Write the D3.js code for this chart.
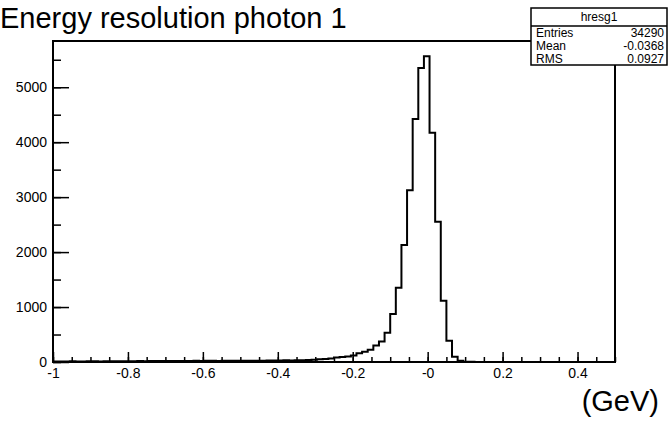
<!DOCTYPE html>
<html>
<head>
<meta charset="utf-8">
<script src="https://cdn.jsdelivr.net/npm/d3@7/dist/d3.min.js"></script>
<style>
  body { margin: 0; background: #fff; }
  svg { display: block; font-family: "Liberation Sans", Arial, Helvetica, sans-serif; }
</style>
</head>
<body>
<div id="chart"></div>
<script>
// histogram: 100 bins from -1 to 0.5 GeV
var binLow = -1;
var binHigh = 0.5;
var counts = [
  8, 10, 9, 12, 11, 10, 13, 12, 11, 14,
  13, 12, 15, 14, 13, 16, 15, 17, 16, 18,
  17, 19, 18, 20, 19, 21, 20, 22, 21, 20,
  22, 21, 23, 22, 24, 23, 25, 24, 26, 27,
  28, 30, 29, 32, 34, 38, 42, 48, 55, 62,
  80, 92, 100, 118, 160, 185, 225, 300, 375, 533,
  873, 1351, 2127, 3127, 4420, 5350, 5563, 4170, 2551, 1115,
  388, 97, 24, 5, 3, 2, 1, 1, 0, 0,
  0, 0, 0, 0, 0, 0, 0, 0, 0, 0,
  0, 0, 0, 0, 0, 0, 0, 0, 0, 0
];

var xTicks = [-1, -0.8, -0.6, -0.4, -0.2, 0, 0.2, 0.4];
var xTickLabels = ["-1", "-0.8", "-0.6", "-0.4", "-0.2", "-0", "0.2", "0.4"];
var yTicks = [0, 1000, 2000, 3000, 4000, 5000];

var title = "Energy resolution photon 1";
var xTitle = "(GeV)";
var statsName = "hresg1";
var statsLabels = ["Entries", "Mean", "RMS"];
var statsValues = ["34290", "-0.0368", "0.0927"];

var W = 668, H = 422;
var frame = {left: 53, right: 615, top: 41, bottom: 362};

var svg = d3.select("#chart").append("svg")
  .attr("width", W)
  .attr("height", H);

var nBins = counts.length;
var binW = (binHigh - binLow) / nBins;
var yMax = d3.max(counts) * 1.05;

var x = d3.scaleLinear().domain([binLow, binHigh]).range([frame.left, frame.right]);
var y = d3.scaleLinear().domain([0, yMax]).range([frame.bottom, frame.top]);

// minor ticks every 0.05 / 500
var xMinor = d3.range(0, 31).map(function(i) { return binLow + i * 0.05; })
  .filter(function(v) { return v <= binHigh + 1e-9; });
var yMinor = d3.range(0, 12).map(function(i) { return i * 500; })
  .filter(function(v) { return v <= yMax; });

var axisColor = "#000";

// x axis
var gx = svg.append("g")
  .attr("transform", "translate(0," + frame.bottom + ")");
gx.call(d3.axisBottom(x).tickValues(xMinor).tickSize(-5).tickFormat(""));
gx.append("g").call(d3.axisBottom(x)
  .tickValues(xTicks)
  .tickSize(-10)
  .tickPadding(6)
  .tickFormat(function(d, i) { return xTickLabels[i]; }));
gx.selectAll(".domain").remove();
gx.selectAll("line").attr("stroke", axisColor).attr("stroke-width", 1.5);
gx.selectAll("text")
  .attr("fill", axisColor)
  .style("font-size", "14px");

// y axis
var gy = svg.append("g")
  .attr("transform", "translate(" + frame.left + ",0)");
gy.call(d3.axisLeft(y).tickValues(yMinor).tickSize(-8).tickFormat(""));
gy.append("g").call(d3.axisLeft(y)
  .tickValues(yTicks)
  .tickSize(-16)
  .tickPadding(6)
  .tickFormat(d3.format("d")));
gy.selectAll(".domain").remove();
gy.selectAll("line").attr("stroke", axisColor).attr("stroke-width", 1.5);
gy.selectAll("text")
  .attr("fill", axisColor)
  .style("font-size", "14px");

// histogram outline
var pts = counts.map(function(c, i) { return [binLow + i * binW, c]; });
pts.push([binHigh, counts[nBins - 1]]);

svg.append("path")
  .datum(pts)
  .attr("fill", "none")
  .attr("stroke", "#000")
  .attr("stroke-width", 2)
  .attr("d", d3.line()
    .x(function(d) { return x(d[0]); })
    .y(function(d) { return y(d[1]); })
    .curve(d3.curveStepAfter));

// frame
svg.append("rect")
  .attr("x", frame.left)
  .attr("y", frame.top)
  .attr("width", frame.right - frame.left)
  .attr("height", frame.bottom - frame.top)
  .attr("fill", "none")
  .attr("stroke", "#000")
  .attr("stroke-width", 2);

// title
svg.append("text")
  .attr("x", 0)
  .attr("y", 28)
  .style("font-size", "29px")
  .text(title);

// x title
svg.append("text")
  .attr("x", 659)
  .attr("y", 411)
  .attr("text-anchor", "end")
  .style("font-size", "29px")
  .text(xTitle);

// stats box
var box = {x: 531, y: 8, w: 136, head: 18, row: 13};
var boxH = box.head + box.row * statsLabels.length;
var gs = svg.append("g");
gs.append("rect")
  .attr("x", box.x).attr("y", box.y)
  .attr("width", box.w).attr("height", boxH)
  .attr("fill", "#fff")
  .attr("stroke", "#000")
  .attr("stroke-width", 1.5);
gs.append("line")
  .attr("x1", box.x).attr("x2", box.x + box.w)
  .attr("y1", box.y + box.head).attr("y2", box.y + box.head)
  .attr("stroke", "#000")
  .attr("stroke-width", 1.5);
gs.append("text")
  .attr("x", box.x + box.w / 2)
  .attr("y", box.y + box.head / 2 + 4)
  .attr("text-anchor", "middle")
  .style("font-size", "12px")
  .text(statsName);
gs.selectAll(".slabel")
  .data(statsLabels)
  .enter().append("text")
  .attr("class", "slabel")
  .attr("x", box.x + 5)
  .attr("y", function(d, i) { return box.y + box.head + box.row * i + box.row / 2 + 4; })
  .style("font-size", "12px")
  .text(function(d) { return d; });
gs.selectAll(".svalue")
  .data(statsValues)
  .enter().append("text")
  .attr("class", "svalue")
  .attr("x", box.x + box.w - 3)
  .attr("y", function(d, i) { return box.y + box.head + box.row * i + box.row / 2 + 4; })
  .attr("text-anchor", "end")
  .style("font-size", "12px")
  .text(function(d) { return d; });
</script>
</body>
</html>
